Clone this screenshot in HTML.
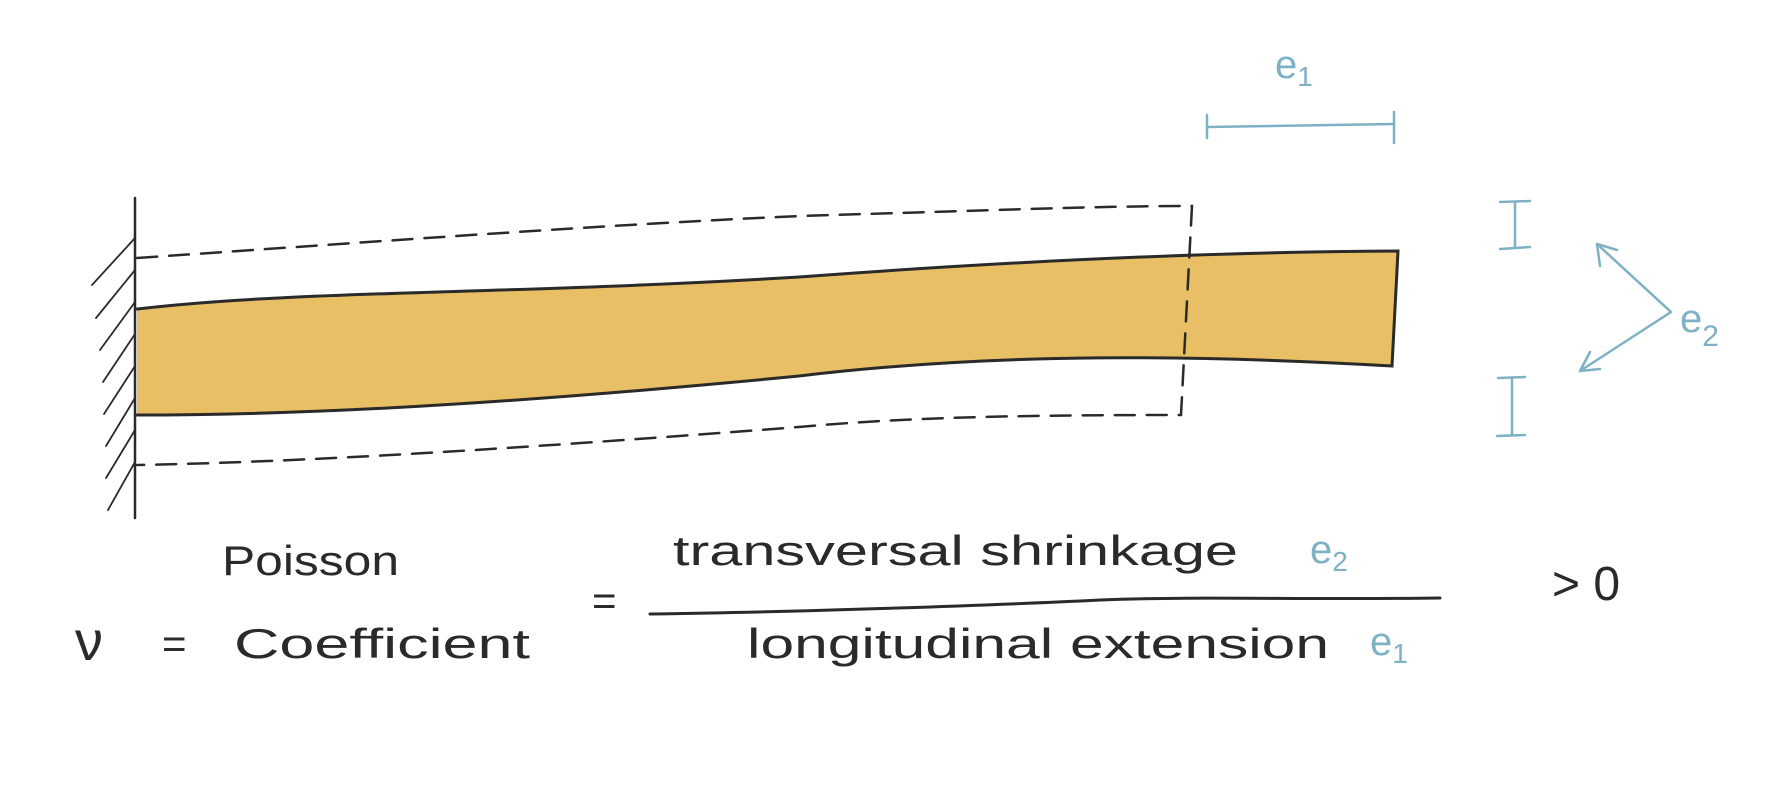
<!DOCTYPE html>
<html><head><style>html,body{margin:0;padding:0;background:#fff}svg{display:block}</style></head>
<body>
<svg width="1780" height="792" viewBox="0 0 1780 792" xmlns="http://www.w3.org/2000/svg">
<rect width="1780" height="792" fill="#fff"/>
<!-- beam fill -->
<path d="M137 309 C300 290 500 295 799 277 C1000 262 1200 252 1398 251 L1392 366 C1200 355 1000 352 799 376 C500 405 300 415 137 415 Z" fill="#e8bf65"/>
<g fill="none" stroke="#2a2a2a" stroke-width="3" stroke-linecap="round">
<path d="M137 309 C300 290 500 295 799 277 C1000 262 1200 252 1398 251 L1392 366 C1200 355 1000 352 799 376 C500 405 300 415 137 415"/>
<line x1="135" y1="198" x2="135" y2="518" stroke-width="2.5"/>
<g stroke-width="1.8">
<line x1="135" y1="238" x2="92" y2="285"/><line x1="135" y1="270" x2="96" y2="318"/>
<line x1="135" y1="302" x2="100" y2="350"/><line x1="135" y1="334" x2="103" y2="382"/>
<line x1="135" y1="366" x2="104" y2="414"/><line x1="135" y1="398" x2="106" y2="446"/>
<line x1="135" y1="430" x2="106" y2="478"/><line x1="135" y1="462" x2="108" y2="510"/>
</g>
<path d="M137 258 C400 240 600 225 800 216 C1000 210 1100 206 1192 206 L1181 415 C1000 415 900 418 799 427 C500 450 300 462 137 465" stroke-dasharray="20 12" stroke-width="2.5"/>
</g>
<g fill="none" stroke="#7fb1c4" stroke-width="2.5" stroke-linecap="round">
<line x1="1207" y1="127" x2="1394" y2="124"/><line x1="1207" y1="115" x2="1207" y2="138"/><line x1="1394" y1="112" x2="1394" y2="143"/>
<line x1="1515" y1="202" x2="1515" y2="248"/><line x1="1500" y1="202" x2="1530" y2="201"/><line x1="1500" y1="249" x2="1530" y2="247"/>
<line x1="1512" y1="378" x2="1512" y2="435"/><line x1="1498" y1="378" x2="1525" y2="377"/><line x1="1497" y1="436" x2="1525" y2="435"/>
<path d="M1671 312 L1597 244 M1597 244 L1600 266 M1597 244 L1617 250"/>
<path d="M1671 312 L1580 371 M1580 371 L1600 369 M1580 371 L1590 352"/>
</g>
<g font-family="Liberation Sans, sans-serif" fill="#7fb1c4" font-size="40">
<text x="1275" y="78">e<tspan font-size="28" dy="8">1</tspan></text>
<text x="1680" y="332">e<tspan font-size="30" dy="14">2</tspan></text>
<text x="1310" y="563">e<tspan font-size="28" dy="8">2</tspan></text>
<text x="1370" y="655">e<tspan font-size="28" dy="8">1</tspan></text>
</g>
<g font-family="Liberation Sans, sans-serif" fill="#2a2a2a" font-size="42">
<text x="222" y="575" textLength="177" lengthAdjust="spacingAndGlyphs">Poisson</text>
<text x="75" y="660" font-size="56">ν</text>
<text x="162" y="658">=</text>
<text x="234" y="658" textLength="296" lengthAdjust="spacingAndGlyphs">Coefficient</text>
<text x="592" y="615">=</text>
<text x="673" y="565" textLength="565" lengthAdjust="spacingAndGlyphs">transversal shrinkage</text>
<text x="747" y="658" textLength="582" lengthAdjust="spacingAndGlyphs">longitudinal extension</text>
<text x="1552" y="600" font-size="48">&gt; 0</text>
</g>
<path d="M650 614 C800 612 1000 605 1100 600 C1200 596 1300 600 1440 598" fill="none" stroke="#2a2a2a" stroke-width="3" stroke-linecap="round"/>
</svg>
</body></html>
